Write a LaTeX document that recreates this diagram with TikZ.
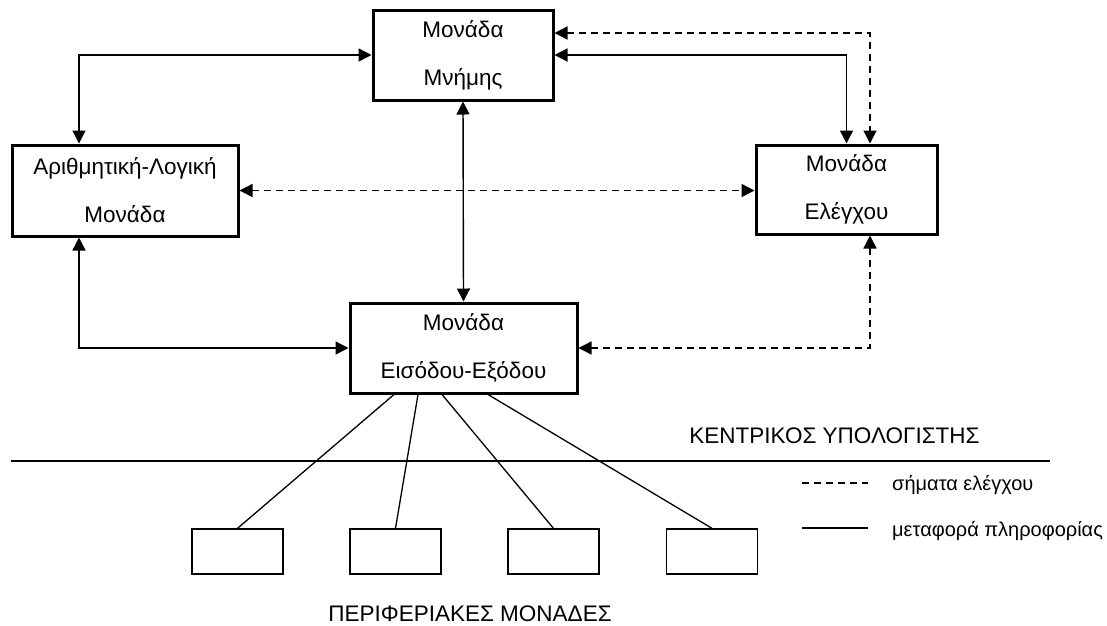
\documentclass[tikz,border=0pt]{standalone}
\usepackage{fontspec}
\setmainfont{Liberation Sans}
\usetikzlibrary{arrows.meta}

\begin{document}
\begin{tikzpicture}[x=1pt,y=-1pt,
		unit/.style={draw,line width=3pt,inner sep=0pt,align=center,font=\fontsize{22.5}{48}\selectfont},
		periph/.style={draw,line width=1.3pt,minimum width=91pt,minimum height=45pt,inner sep=0pt},
		data/.style={line width=1.4pt,{Triangle[length=13pt,width=13pt]}-{Triangle[length=13pt,width=13pt]}},
		ctrl/.style={data,dash pattern=on 7pt off 5pt},
		label/.style={font=\fontsize{22.5}{27}\selectfont,inner sep=0pt},
		legend/.style={font=\fontsize{20}{24}\selectfont,inner sep=0pt}]
		\useasboundingbox (0,0) rectangle (1107,625);
		% units of the computer
		\node[unit,minimum width=180pt,minimum height=90pt] (mem) at (463,55) {Μονάδα\\Μνήμης};
		\node[unit,minimum width=226pt,minimum height=91pt] (alu) at (125,190.5) {Αριθμητική-Λογική\\Μονάδα};
		\node[unit,minimum width=181pt,minimum height=89pt] (ctl) at (846.5,189.5) {Μονάδα\\Ελέγχου};
		\node[unit,minimum width=227pt,minimum height=90pt] (io) at (463.5,348) {Μονάδα\\Εισόδου-Εξόδου};
		% information flow
		\draw[data] (mem.west) -| ([xshift=-46pt]alu.north);
		\draw[data] (mem.south) -- (io.north);
		\draw[data] (mem.east) -| (ctl.north);
		\draw[data] ([xshift=-46pt]alu.south) |- (io.west);
		% control signals
		\draw[ctrl] ([yshift=22pt]mem.east) -| ([xshift=23.5pt]ctl.north);
		\draw[ctrl] (alu.east) -- (alu.east -| ctl.west);
		\draw[ctrl] (io.east) -| ([xshift=23.5pt]ctl.south);
		% peripherals
		\foreach \i/\px/\sx in {1/237.5/-69.5,2/395.5/-45.5,3/553.5/-21.5,4/712/24.5} {
			\node[periph] (per\i) at (\px,551.5) {};
			\draw[line width=1.3pt] ([xshift=\sx pt]io.south) -- (per\i.north);
		}
		\coordinate (sepl) at (11,461);
		\coordinate (sepr) at (1050,461);
		\draw[line width=1.3pt] (sepl) -- (sepr);
		\node[label,anchor=base] (cpu) at (834.5,443) {ΚΕΝΤΡΙΚΟΣ ΥΠΟΛΟΓΙΣΤΗΣ};
		\node[label,anchor=base] (peri) at (470,621) {ΠΕΡΙΦΕΡΙΑΚΕΣ ΜΟΝΑΔΕΣ};
		% legend
		\coordinate (ldash) at (802,483);
		\coordinate (lsolid) at (802,528);
		\draw[line width=1.3pt,dash pattern=on 7pt off 5pt] (ldash) -- ++(66,0);
		\draw[line width=1.3pt] (lsolid) -- ++(66,0);
		\node[legend,anchor=base west] (ltxt1) at (892,490) {σήματα ελέγχου};
		\node[legend,anchor=base west] (ltxt2) at (892,536) {μεταφορά πληροφορίας};
	\end{tikzpicture}
\end{document}
